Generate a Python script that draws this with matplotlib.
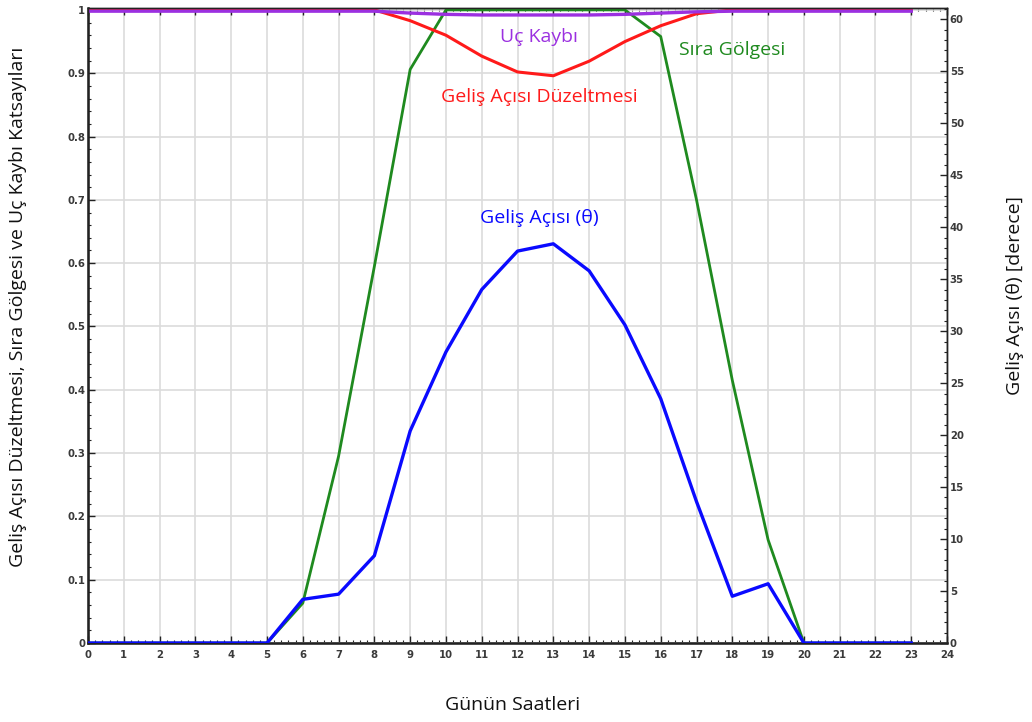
import matplotlib.pyplot as plt
from matplotlib.ticker import MultipleLocator
import numpy as np

hours = list(range(24))

# incidence angle in degrees (right axis)
theta = [0, 0, 0, 0, 0, 0, 4.2, 4.7, 8.4, 20.4, 28.0, 34.0, 37.7, 38.4,
         35.8, 30.6, 23.5, 13.6, 4.5, 5.7, 0, 0, 0, 0]

# row shading factor
shading = [0, 0, 0, 0, 0, 0, 0.063, 0.295, 0.595, 0.906, 1.0, 1.0, 1.0, 1.0,
           1.0, 1.0, 0.958, 0.70, 0.415, 0.163, 0, 0, 0, 0]

# incidence angle modifier
iam = [1.0, 1.0, 1.0, 1.0, 1.0, 1.0, 1.0, 1.0, 1.0, 0.983, 0.96, 0.927, 0.902,
       0.896, 0.919, 0.95, 0.975, 0.994, 1.0, 1.0, 1.0, 1.0, 1.0, 1.0]

# end loss factor
end_loss = [0.998, 0.998, 0.998, 0.998, 0.998, 0.998, 0.998, 0.998, 0.998,
            0.995, 0.993, 0.992, 0.992, 0.992, 0.992, 0.993, 0.995, 0.997,
            0.998, 0.998, 0.998, 0.998, 0.998, 0.998]

GREEN = '#1f8a1f'
RED = '#ff1a1a'
PURPLE = '#9b30e0'
BLUE = '#0a0aff'
TICK_COLOR = '#3a3a3a'
LABEL_FONT = ['Open Sans', 'DejaVu Sans']
FS = 14

fig = plt.figure(figsize=(10.32, 7.22), dpi=100)
ax = fig.add_axes([0.0853, 0.1094, 0.8324, 0.8795])

ax.plot(hours, shading, color=GREEN, lw=2.0, zorder=3)
ax.plot(hours, iam, color=RED, lw=2.2, zorder=3)
ax.plot(hours, end_loss, color=PURPLE, lw=2.4, zorder=4)

ax.set_xlim(0, 24)
ax.set_ylim(0, 1.003)
ax.xaxis.set_major_locator(MultipleLocator(1))
ax.xaxis.set_minor_locator(MultipleLocator(0.2))
ax.yaxis.set_major_locator(MultipleLocator(0.1))
ax.yaxis.set_minor_locator(MultipleLocator(0.02))
ax.yaxis.set_major_formatter(plt.FuncFormatter(lambda v, p: '%g' % round(v, 1)))
ax.grid(True, which='major', color='#dcdcdc', lw=1.2, zorder=0)
ax.set_axisbelow(True)

ax2 = ax.twinx()
ax2.plot(hours, theta, color=BLUE, lw=2.4, zorder=5)
ax2.set_ylim(0, 61.08)
ax2.yaxis.set_major_locator(MultipleLocator(5))
ax2.yaxis.set_minor_locator(MultipleLocator(1))

for a in (ax, ax2):
    for s in a.spines.values():
        s.set_color('#222222')
        s.set_linewidth(1.0)
    a.tick_params(which='major', direction='in', length=5, width=1.0,
                  colors='#222222', labelcolor=TICK_COLOR, labelsize=7.3, pad=2)
    a.tick_params(which='minor', direction='in', length=2, width=0.8,
                  colors='#222222')
ax.spines['left'].set_linewidth(1.8)
ax.spines['bottom'].set_linewidth(1.8)
ax.tick_params(top=True, which='both')
ax.tick_params(axis='x', pad=5)
for lbl in ax.get_xticklabels() + ax.get_yticklabels() + ax2.get_yticklabels():
    lbl.set_fontweight('bold')

# series labels
ax.text(12.6, 0.957, 'Uç Kaybı', color=PURPLE, fontsize=FS, family=LABEL_FONT,
        ha='center', va='center')
ax.text(12.6, 0.862, 'Geliş Açısı Düzeltmesi', color=RED, fontsize=FS,
        family=LABEL_FONT, ha='center', va='center')
ax.text(18.0, 0.937, 'Sıra Gölgesi', color=GREEN, fontsize=FS,
        family=LABEL_FONT, ha='center', va='center')
ax.text(12.6, 0.671, 'Geliş Açısı (θ)', color=BLUE, fontsize=FS,
        family=LABEL_FONT, ha='center', va='center')

fig.text(0.497, 0.024, 'Günün Saatleri', fontsize=FS, family=LABEL_FONT,
         ha='center', va='center', color='#111111')
fig.text(0.017, 0.575, 'Geliş Açısı Düzeltmesi, Sıra Gölgesi ve Uç Kaybı Katsayıları',
         fontsize=FS, family=LABEL_FONT, rotation=90, ha='center', va='center',
         color='#111111')
fig.text(0.984, 0.591, 'Geliş Açısı (θ) [derece]', fontsize=FS,
         family=LABEL_FONT, rotation=90, ha='center',
         va='center', color='#111111')

fig.savefig('out.png', dpi=100)
